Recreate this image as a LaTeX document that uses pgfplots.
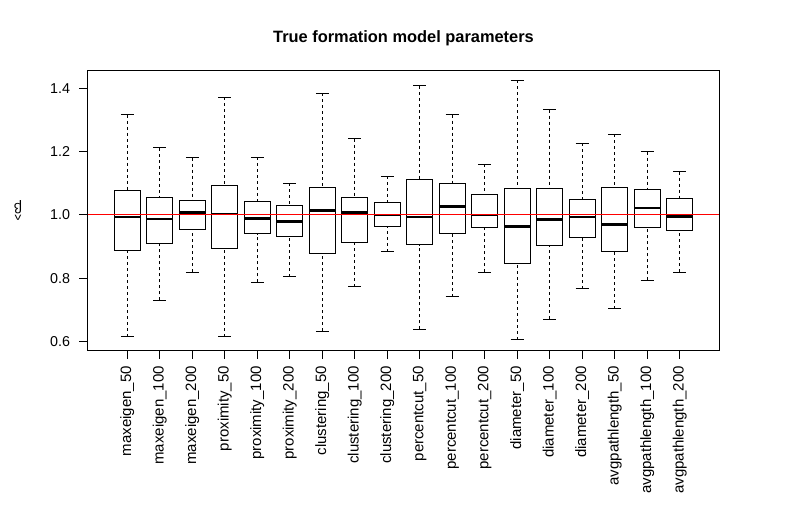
\documentclass[border=0pt]{standalone}
\usepackage{pgfplots}
\pgfplotsset{compat=1.18}
\usepgfplotslibrary{statistics}
\usepackage{fontspec}
\setmainfont{Liberation Sans}
\begin{document}
\begin{tikzpicture}
\pgfplotsset{
  rbox/.style={black, line width=0.9pt,
    boxplot/draw direction=y,
    boxplot/box extend=0.8,
    boxplot/whisker extend=0.4,
    boxplot/every median/.style={line width=2.4pt},
    boxplot/draw/lower whisker/.code={
      \draw[black, line width=0.9pt, dash pattern=on 3pt off 3pt]
        (boxplot box cs:\pgfplotsboxplotvalue{lower whisker},0.5) --
        (boxplot box cs:\pgfplotsboxplotvalue{lower quartile},0.5);
      \draw[black, line width=0.9pt]
        (boxplot whisker cs:\pgfplotsboxplotvalue{lower whisker},0) --
        (boxplot whisker cs:\pgfplotsboxplotvalue{lower whisker},1);
    },
    boxplot/draw/upper whisker/.code={
      \draw[black, line width=0.9pt, dash pattern=on 3pt off 3pt]
        (boxplot box cs:\pgfplotsboxplotvalue{upper whisker},0.5) --
        (boxplot box cs:\pgfplotsboxplotvalue{upper quartile},0.5);
      \draw[black, line width=0.9pt]
        (boxplot whisker cs:\pgfplotsboxplotvalue{upper whisker},0) --
        (boxplot whisker cs:\pgfplotsboxplotvalue{upper whisker},1);
    },
  }
}
\begin{axis}[
  at={(0,0)}, anchor=south west,
  scale only axis, width=631.6pt, height=280pt,
  xmin=-0.22, xmax=19.22, ymin=0.573, ymax=1.458,
  axis line style={line width=0.9pt},
  every tick/.style={black, line width=0.9pt},
  tick align=outside, major tick length=8.6pt,
  xtick pos=bottom, ytick pos=left,
  xtick={1,...,18},
  xticklabels={maxeigen\_50,maxeigen\_100,maxeigen\_200,proximity\_50,proximity\_100,proximity\_200,clustering\_50,clustering\_100,clustering\_200,percentcut\_50,percentcut\_100,percentcut\_200,diameter\_50,diameter\_100,diameter\_200,avgpathlength\_50,avgpathlength\_100,avgpathlength\_200},
  xticklabel style={rotate=90, anchor=east, font=\fontsize{15}{17}\selectfont},
  xticklabel shift=4pt,
  ytick={0.6,0.8,1.0,1.2,1.4},
  yticklabel style={font=\fontsize{14.3}{17}\selectfont, /pgf/number format/fixed, /pgf/number format/fixed zerofill, /pgf/number format/precision=1, /pgf/number format/assume math mode=true},
  yticklabel shift=5.5pt,
  title={True formation model parameters},
  title style={anchor=base, at={(0.5,1)}, yshift=21.3pt, font=\bfseries\fontsize{16.4}{20}\selectfont},
  ylabel={\textasciicircum\\[-10pt]β},
  ylabel style={at={(axis description cs:-0.1104,0.5)}, anchor=center, align=center, rotate=90, font=\fontsize{14.3}{17}\selectfont},
  clip=false,
]
\addplot[rbox, boxplot prepared={draw position=1, lower whisker=0.615, lower quartile=0.888, median=0.994, upper quartile=1.076, upper whisker=1.316}] coordinates {};
\addplot[rbox, boxplot prepared={draw position=2, lower whisker=0.730, lower quartile=0.909, median=0.987, upper quartile=1.055, upper whisker=1.212}] coordinates {};
\addplot[rbox, boxplot prepared={draw position=3, lower whisker=0.819, lower quartile=0.955, median=1.007, upper quartile=1.047, upper whisker=1.181}] coordinates {};
\addplot[rbox, boxplot prepared={draw position=4, lower whisker=0.615, lower quartile=0.894, median=1.003, upper quartile=1.094, upper whisker=1.372}] coordinates {};
\addplot[rbox, boxplot prepared={draw position=5, lower whisker=0.787, lower quartile=0.941, median=0.989, upper quartile=1.044, upper whisker=1.183}] coordinates {};
\addplot[rbox, boxplot prepared={draw position=6, lower whisker=0.805, lower quartile=0.932, median=0.979, upper quartile=1.030, upper whisker=1.100}] coordinates {};
\addplot[rbox, boxplot prepared={draw position=7, lower whisker=0.633, lower quartile=0.878, median=1.014, upper quartile=1.088, upper whisker=1.384}] coordinates {};
\addplot[rbox, boxplot prepared={draw position=8, lower whisker=0.773, lower quartile=0.913, median=1.007, upper quartile=1.055, upper whisker=1.241}] coordinates {};
\addplot[rbox, boxplot prepared={draw position=9, lower whisker=0.884, lower quartile=0.963, median=1.000, upper quartile=1.040, upper whisker=1.122}] coordinates {};
\addplot[rbox, boxplot prepared={draw position=10, lower whisker=0.638, lower quartile=0.906, median=0.994, upper quartile=1.111, upper whisker=1.408}] coordinates {};
\addplot[rbox, boxplot prepared={draw position=11, lower whisker=0.742, lower quartile=0.940, median=1.026, upper quartile=1.100, upper whisker=1.317}] coordinates {};
\addplot[rbox, boxplot prepared={draw position=12, lower whisker=0.819, lower quartile=0.960, median=1.000, upper quartile=1.065, upper whisker=1.160}] coordinates {};
\addplot[rbox, boxplot prepared={draw position=13, lower whisker=0.606, lower quartile=0.845, median=0.963, upper quartile=1.084, upper whisker=1.425}] coordinates {};
\addplot[rbox, boxplot prepared={draw position=14, lower whisker=0.671, lower quartile=0.902, median=0.985, upper quartile=1.084, upper whisker=1.333}] coordinates {};
\addplot[rbox, boxplot prepared={draw position=15, lower whisker=0.767, lower quartile=0.928, median=0.994, upper quartile=1.049, upper whisker=1.226}] coordinates {};
\addplot[rbox, boxplot prepared={draw position=16, lower whisker=0.704, lower quartile=0.885, median=0.970, upper quartile=1.087, upper whisker=1.255}] coordinates {};
\addplot[rbox, boxplot prepared={draw position=17, lower whisker=0.793, lower quartile=0.959, median=1.021, upper quartile=1.079, upper whisker=1.200}] coordinates {};
\addplot[rbox, boxplot prepared={draw position=18, lower whisker=0.819, lower quartile=0.950, median=0.995, upper quartile=1.051, upper whisker=1.137}] coordinates {};
\addplot[draw=red, line width=1pt, mark=none] coordinates {(-0.22,1) (19.22,1)};
\end{axis}
\pgfresetboundingbox
\useasboundingbox (-87.7pt,-176pt) rectangle (701.3pt,350pt);
\end{tikzpicture}
\end{document}
